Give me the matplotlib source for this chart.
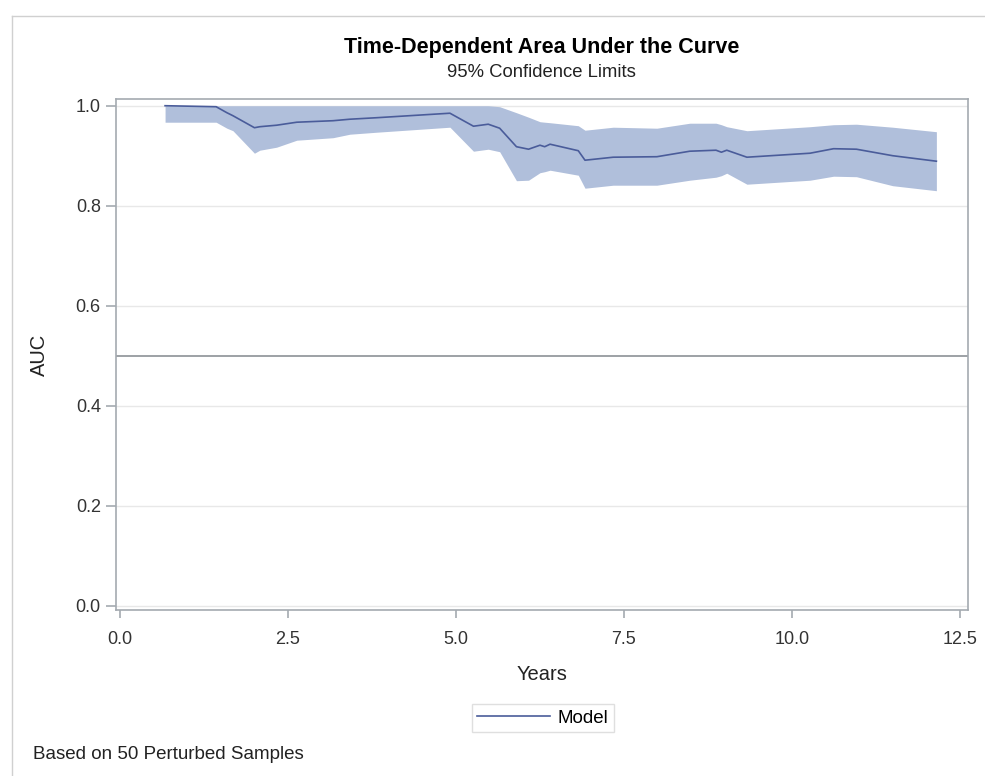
import matplotlib.pyplot as plt
from matplotlib.lines import Line2D

plt.rcParams['font.family'] = ['Liberation Sans', 'DejaVu Sans']

# time points (years) and AUC with 95% limits
years = [0.67, 1.43, 1.59, 1.68, 2.0, 2.08, 2.33, 2.63, 3.17, 3.42, 3.82, 4.91,
         5.26, 5.48, 5.65, 5.9, 6.08, 6.25, 6.32, 6.40, 6.82, 6.92, 7.34, 7.99,
         8.48, 8.87, 8.95, 9.03, 9.33, 10.27, 10.62, 10.96, 11.5, 12.15]
auc = [1.0, 0.998, 0.986, 0.980, 0.956, 0.958, 0.961, 0.967, 0.970, 0.973, 0.976, 0.985,
       0.959, 0.963, 0.955, 0.918, 0.913, 0.921, 0.918, 0.923, 0.910, 0.891, 0.897, 0.898,
       0.909, 0.911, 0.907, 0.911, 0.897, 0.905, 0.914, 0.913, 0.900, 0.889]
lower = [0.967, 0.967, 0.955, 0.950, 0.905, 0.911, 0.917, 0.931, 0.936, 0.943, 0.947, 0.957,
         0.909, 0.913, 0.908, 0.850, 0.851, 0.866, 0.868, 0.871, 0.861, 0.835, 0.841, 0.841,
         0.851, 0.857, 0.860, 0.865, 0.843, 0.851, 0.859, 0.858, 0.840, 0.830]
upper = [1.0, 1.0, 1.0, 1.0, 1.0, 1.0, 1.0, 1.0, 1.0, 1.0, 1.0, 1.0,
         1.0, 1.0, 0.998, 0.986, 0.977, 0.968, 0.967, 0.966, 0.960, 0.951, 0.957, 0.955,
         0.965, 0.965, 0.962, 0.958, 0.950, 0.958, 0.962, 0.963, 0.957, 0.948]

xticks = [0.0, 2.5, 5.0, 7.5, 10.0, 12.5]
yticks = [0.0, 0.2, 0.4, 0.6, 0.8, 1.0]

fig = plt.figure(figsize=(9.85, 7.76), dpi=100)
ax = fig.add_axes([0.1178, 0.2139, 0.8649, 0.6585])

ax.fill_between(years, lower, upper, color='#b0bfdb', linewidth=0, zorder=2)
ax.plot(years, auc, color='#4a5c9a', linewidth=1.2, zorder=3)
ax.axhline(0.5, color='#8c9196', linewidth=1.2, zorder=2)

ax.set_xlim(-0.06, 12.62)
ax.set_ylim(-0.0087, 1.0134)
ax.set_xticks(xticks)
ax.set_xticklabels(['%.1f' % v for v in xticks])
ax.set_yticks(yticks)
ax.set_yticklabels(['%.1f' % v for v in yticks])
ax.grid(axis='y', color='#e8e8e8', linewidth=1, zorder=0)
ax.set_axisbelow(True)

for s in ax.spines.values():
    s.set_color('#a4aab0')
    s.set_linewidth(1.2)
ax.tick_params(colors='#a4aab0', labelcolor='#333333', labelsize=13, width=1.2)
ax.tick_params(axis='x', length=6, pad=9)
ax.tick_params(axis='y', length=7, pad=4)

ax.set_xlabel('Years', fontsize=14.5, color='#222222', labelpad=12)
ax.set_ylabel('AUC', fontsize=14.5, color='#222222', labelpad=19)

fig.text(0.550, 0.939, 'Time-Dependent Area Under the Curve', ha='center', va='center',
         fontsize=15.5, fontweight='bold', color='black')
fig.text(0.550, 0.906, '95% Confidence Limits', ha='center', va='center',
         fontsize=13.3, color='#222222')

leg_handle = Line2D([], [], color='#4a5c9a', linewidth=1.2)
fig.legend([leg_handle], ['Model'], loc='center', bbox_to_anchor=(0.5513, 0.0747),
           frameon=True, fontsize=13.5, handlelength=3.9, handletextpad=0.4,
           fancybox=False, edgecolor='#d8d8d8', borderpad=0.3, borderaxespad=0)

fig.text(0.034, 0.028, 'Based on 50 Perturbed Samples', ha='left', va='center',
         fontsize=13.5, color='#222222')

# outer border
fig.add_artist(Line2D([12 / 985, 12 / 985], [0, 760 / 776], color='#d0d0d0', linewidth=1))
fig.add_artist(Line2D([12 / 985, 1], [760 / 776, 760 / 776], color='#d0d0d0', linewidth=1))

fig.savefig('out.png', dpi=100)
